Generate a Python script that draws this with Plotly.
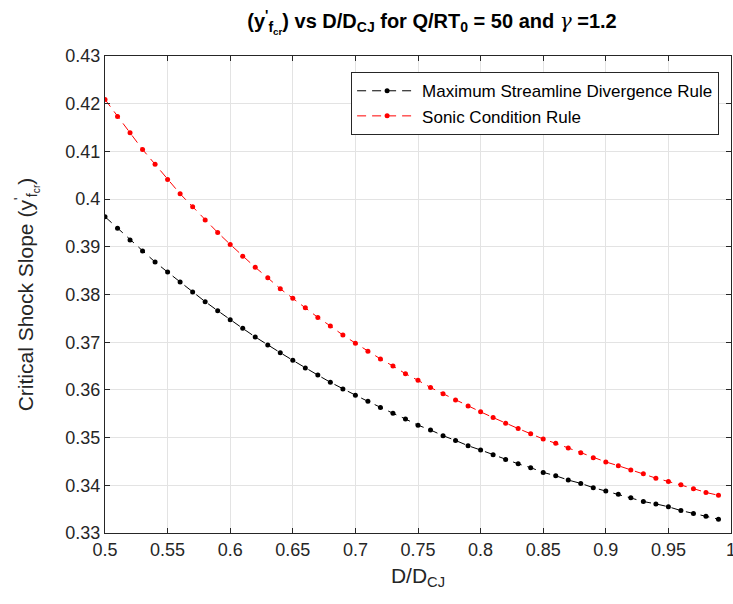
import plotly.graph_objects as go

d_ratio = [0.50, 0.51, 0.52, 0.53, 0.54, 0.55, 0.56, 0.57, 0.58, 0.59,
           0.60, 0.61, 0.62, 0.63, 0.64, 0.65, 0.66, 0.67, 0.68, 0.69,
           0.70, 0.71, 0.72, 0.73, 0.74, 0.75, 0.76, 0.77, 0.78, 0.79,
           0.80, 0.81, 0.82, 0.83, 0.84, 0.85, 0.86, 0.87, 0.88, 0.89,
           0.90, 0.91, 0.92, 0.93, 0.94, 0.95, 0.96, 0.97, 0.98, 0.99]

max_streamline = [0.3963, 0.3939, 0.3914, 0.3891, 0.3868, 0.3847, 0.3826, 0.3805, 0.3785, 0.3766,
                  0.3747, 0.3729, 0.3711, 0.3694, 0.3678, 0.3662, 0.3646, 0.3631, 0.3616, 0.3602,
                  0.3589, 0.3576, 0.3563, 0.3551, 0.3539, 0.3526, 0.3516, 0.3504, 0.3494, 0.3483,
                  0.3474, 0.3464, 0.3454, 0.3445, 0.3437, 0.3427, 0.3420, 0.3411, 0.3404, 0.3395,
                  0.3388, 0.3381, 0.3374, 0.3366, 0.3361, 0.3355, 0.3347, 0.3341, 0.3335, 0.3329]

sonic = [0.4209, 0.4173, 0.4139, 0.4104, 0.4073, 0.4041, 0.4011, 0.3984, 0.3956, 0.3930,
         0.3905, 0.3880, 0.3857, 0.3835, 0.3812, 0.3792, 0.3772, 0.3752, 0.3734, 0.3715,
         0.3698, 0.3681, 0.3665, 0.3650, 0.3634, 0.3620, 0.3605, 0.3592, 0.3579, 0.3566,
         0.3554, 0.3542, 0.3530, 0.3519, 0.3508, 0.3497, 0.3488, 0.3478, 0.3468, 0.3458,
         0.3449, 0.3441, 0.3432, 0.3424, 0.3415, 0.3408, 0.3401, 0.3393, 0.3385, 0.3379]

x_ticks = [0.5, 0.55, 0.6, 0.65, 0.7, 0.75, 0.8, 0.85, 0.9, 0.95, 1.0]
x_tick_labels = ["0.5", "0.55", "0.6", "0.65", "0.7", "0.75", "0.8", "0.85", "0.9", "0.95", "1"]
y_ticks = [0.33, 0.34, 0.35, 0.36, 0.37, 0.38, 0.39, 0.40, 0.41, 0.42, 0.43]
y_tick_labels = ["0.33", "0.34", "0.35", "0.36", "0.37", "0.38", "0.39", "0.4", "0.41", "0.42", "0.43"]

FONT = "Liberation Sans, Arial, sans-serif"
AX = "#262626"

fig = go.Figure()
fig.add_trace(go.Scatter(
    x=d_ratio, y=max_streamline, mode="lines+markers",
    name="Maximum Streamline Divergence Rule",
    line=dict(color="#000000", width=1, dash="9px,6px"),
    marker=dict(color="#000000", size=5, symbol="circle"),
))
fig.add_trace(go.Scatter(
    x=d_ratio, y=sonic, mode="lines+markers",
    name="Sonic Condition Rule",
    line=dict(color="#FF0000", width=1, dash="9px,6px"),
    marker=dict(color="#FF0000", size=5, symbol="circle"),
))

fig.update_layout(
    width=733, height=604,
    margin=dict(l=105, r=2, t=56, b=71, autoexpand=False),
    paper_bgcolor="white", plot_bgcolor="white",
    font=dict(family=FONT, color=AX, size=17),
    title=dict(
        text="<b>(y<sup>'</sup><sub>f<sub>cr</sub></sub>) vs D/D<sub>CJ</sub> for Q/RT<sub>0</sub> = 50 and "
             "<span style='font-family:DejaVu Serif;font-weight:normal;font-style:italic'>γ</span> =1.2</b>",
        x=432 / 733, xanchor="center", y=1 - 21 / 604, yanchor="middle",
        font=dict(family=FONT, size=20, color="#000000"),
    ),
    legend=dict(
        x=0.981, xanchor="right", y=0.966, yanchor="top",
        bgcolor="white", bordercolor=AX, borderwidth=1,
        font=dict(family=FONT, size=17, color="#000000"),
        itemwidth=60, tracegroupgap=0,
    ),
    showlegend=True,
)

fig.update_xaxes(
    range=[0.5, 1.0], tickvals=x_ticks, ticktext=x_tick_labels,
    showgrid=True, gridcolor="#e3e3e3", gridwidth=1,
    showline=True, linecolor=AX, linewidth=1, mirror="ticks",
    ticks="inside", ticklen=5, tickcolor=AX, ticklabeloverflow="allow",
    tickfont=dict(family=FONT, size=18, color=AX),
    title=dict(text="D/D<sub>CJ</sub>", font=dict(family=FONT, size=21, color=AX), standoff=9),
    zeroline=False, automargin=False,
)
fig.update_yaxes(
    range=[0.33, 0.43], tickvals=y_ticks, ticktext=y_tick_labels,
    showgrid=True, gridcolor="#e3e3e3", gridwidth=1,
    showline=True, linecolor=AX, linewidth=1, mirror="ticks",
    ticks="inside", ticklen=5, tickcolor=AX, ticklabeloverflow="allow",
    tickfont=dict(family=FONT, size=18, color=AX),
    title=dict(text="Critical Shock Slope (y<sup>'</sup><sub>f<sub>cr</sub></sub>)",
               font=dict(family=FONT, size=21, color=AX), standoff=26),
    zeroline=False, automargin=False,
)

fig.write_html("out.html")
